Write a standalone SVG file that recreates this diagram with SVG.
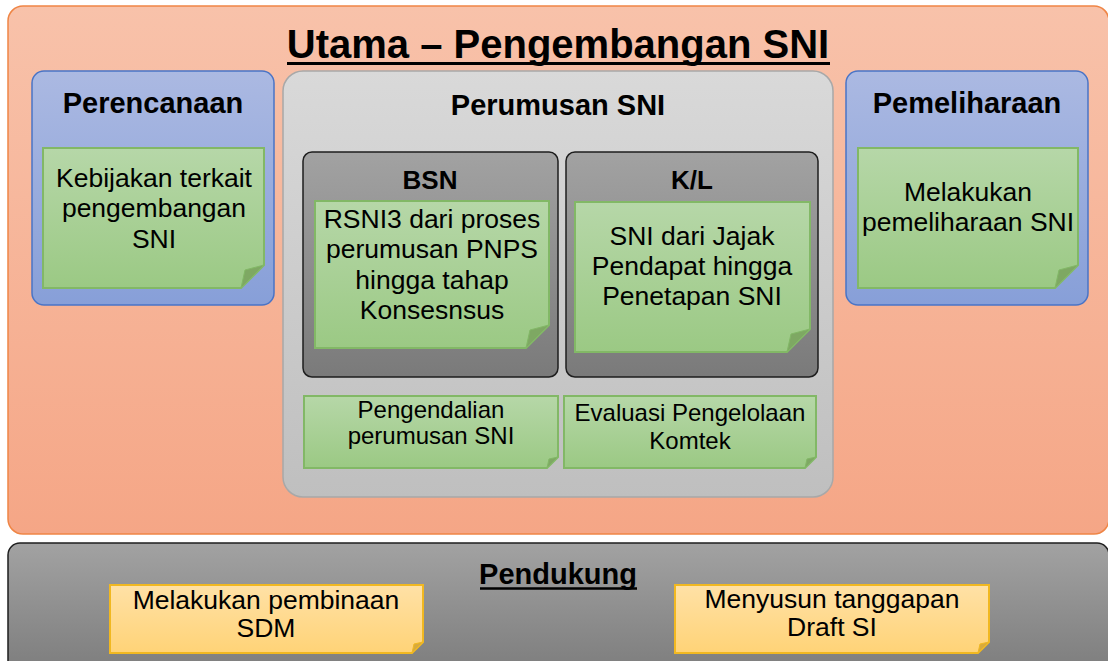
<svg xmlns="http://www.w3.org/2000/svg" width="1108" height="661" viewBox="0 0 1108 661">
<defs>
<linearGradient id="gOr" x1="0" y1="0" x2="0" y2="1"><stop offset="0" stop-color="#f8c2aa"/><stop offset="1" stop-color="#f5a686"/></linearGradient>
<linearGradient id="gBl" x1="0" y1="0" x2="0" y2="1"><stop offset="0" stop-color="#abb9e2"/><stop offset="1" stop-color="#879fd8"/></linearGradient>
<linearGradient id="gLg" x1="0" y1="0" x2="0" y2="1"><stop offset="0" stop-color="#d9d9d9"/><stop offset="1" stop-color="#bfbfbf"/></linearGradient>
<linearGradient id="gDg" x1="0" y1="0" x2="0" y2="1"><stop offset="0" stop-color="#a2a2a2"/><stop offset="1" stop-color="#7a7a7a"/></linearGradient>
<linearGradient id="gGr" x1="0" y1="0" x2="0" y2="1"><stop offset="0" stop-color="#b6d7a8"/><stop offset="1" stop-color="#9bc984"/></linearGradient>
<linearGradient id="gYe" x1="0" y1="0" x2="0" y2="1"><stop offset="0" stop-color="#ffe1a6"/><stop offset="1" stop-color="#ffd377"/></linearGradient>
</defs>
<style>
.t{font-family:"Liberation Sans",Arial,sans-serif;fill:#000;text-anchor:middle}
.b{font-weight:bold}
.gn{fill:url(#gGr);stroke:#82b866;stroke-width:2}
.gf{fill:#7ea863;stroke:#82b866;stroke-width:1}
.yn{fill:url(#gYe);stroke:#f1b821;stroke-width:2}
.yf{fill:#d8aa3c;stroke:#f1b821;stroke-width:1}
</style>

<g id="utama">
<rect x="8" y="6" width="1101" height="528" rx="15" fill="url(#gOr)" stroke="#ef8545" stroke-width="1.5"/>
<text class="t b" x="558" y="58" font-size="40">Utama – Pengembangan SNI</text>
<line x1="287" y1="63.5" x2="830" y2="63.5" stroke="#000" stroke-width="3"/>
</g>

<g id="perencanaan">
<rect x="32" y="71" width="242" height="234" rx="12" fill="url(#gBl)" stroke="#4a74c6" stroke-width="1.5"/>
<text class="t b" x="153" y="113" font-size="29">Perencanaan</text>
</g>
<g id="kebijakan">
<path class="gn" d="M43,148 H264 V265 L241,288 H43 Z"/>
<polygon class="gf" points="241,288 264,265 245,270"/>
<text class="t" font-size="26.5"><tspan x="154" y="187">Kebijakan terkait</tspan><tspan x="154" y="217">pengembangan</tspan><tspan x="154" y="248">SNI</tspan></text>
</g>

<g id="perumusan">
<rect x="283" y="71" width="550" height="426" rx="20" fill="url(#gLg)" stroke="#a8a8a8" stroke-width="1.5"/>
<text class="t b" x="558" y="115" font-size="29">Perumusan SNI</text>
</g>

<g id="bsn">
<rect x="303" y="152" width="255" height="225" rx="9" fill="url(#gDg)" stroke="#1e1e1e" stroke-width="1.5"/>
<text class="t b" x="430" y="189" font-size="26">BSN</text>
</g>
<g id="rsni3">
<path class="gn" d="M315,201 H549 V325 L526,348 H315 Z"/>
<polygon class="gf" points="526,348 549,325 530,330"/>
<text class="t" font-size="26.5"><tspan x="432" y="228">RSNI3 dari proses</tspan><tspan x="432" y="258">perumusan PNPS</tspan><tspan x="432" y="289">hingga tahap</tspan><tspan x="432" y="319">Konsesnsus</tspan></text>
</g>

<g id="kl">
<rect x="566" y="152" width="252" height="225" rx="9" fill="url(#gDg)" stroke="#1e1e1e" stroke-width="1.5"/>
<text class="t b" x="692" y="189" font-size="26">K/L</text>
</g>
<g id="sni-jajak">
<path class="gn" d="M575,202 H810 V329 L787,352 H575 Z"/>
<polygon class="gf" points="787,352 810,329 791,334"/>
<text class="t" font-size="26.5"><tspan x="692" y="245">SNI dari Jajak</tspan><tspan x="692" y="275">Pendapat hingga</tspan><tspan x="692" y="305">Penetapan SNI</tspan></text>
</g>

<g id="pengendalian">
<path class="gn" d="M304,396 H558 V457 L547,468 H304 Z"/>
<polygon class="gf" points="547,468 558,457 549,459"/>
<text class="t" font-size="24"><tspan x="431" y="418">Pengendalian</tspan><tspan x="431" y="444">perumusan SNI</tspan></text>
</g>

<g id="evaluasi">
<path class="gn" d="M564,396 H816 V457 L805,468 H564 Z"/>
<polygon class="gf" points="805,468 816,457 807,459"/>
<text class="t" font-size="24"><tspan x="690" y="421">Evaluasi Pengelolaan</tspan><tspan x="690" y="449">Komtek</tspan></text>
</g>

<g id="pemeliharaan">
<rect x="846" y="71" width="242" height="234" rx="12" fill="url(#gBl)" stroke="#4a74c6" stroke-width="1.5"/>
<text class="t b" x="967" y="113" font-size="29">Pemeliharaan</text>
</g>
<g id="melakukan-pemeliharaan">
<path class="gn" d="M858,148 H1078 V265 L1055,288 H858 Z"/>
<polygon class="gf" points="1055,288 1078,265 1059,270"/>
<text class="t" font-size="26.5"><tspan x="968" y="201">Melakukan</tspan><tspan x="968" y="231">pemeliharaan SNI</tspan></text>
</g>

<g id="pendukung">
<rect x="8" y="543" width="1101" height="140" rx="12" fill="url(#gDg)" stroke="#1e1e1e" stroke-width="1.5"/>
<text class="t b" x="558" y="584" font-size="29">Pendukung</text>
<line x1="480" y1="588.5" x2="637" y2="588.5" stroke="#000" stroke-width="2.5"/>
</g>
<g id="pembinaan-sdm">
<path class="yn" d="M110,585 H423 V642 L412,653 H110 Z"/>
<polygon class="yf" points="412,653 423,642 414,644"/>
<text class="t" font-size="26.5"><tspan x="266" y="609">Melakukan pembinaan</tspan><tspan x="266" y="637">SDM</tspan></text>
</g>
<g id="tanggapan-draft">
<path class="yn" d="M675,585 H989 V642 L978,653 H675 Z"/>
<polygon class="yf" points="978,653 989,642 980,644"/>
<text class="t" font-size="26.5"><tspan x="832" y="608">Menyusun tanggapan</tspan><tspan x="832" y="636">Draft SI</tspan></text>
</g>
<g id="connectors"/>
</svg>
